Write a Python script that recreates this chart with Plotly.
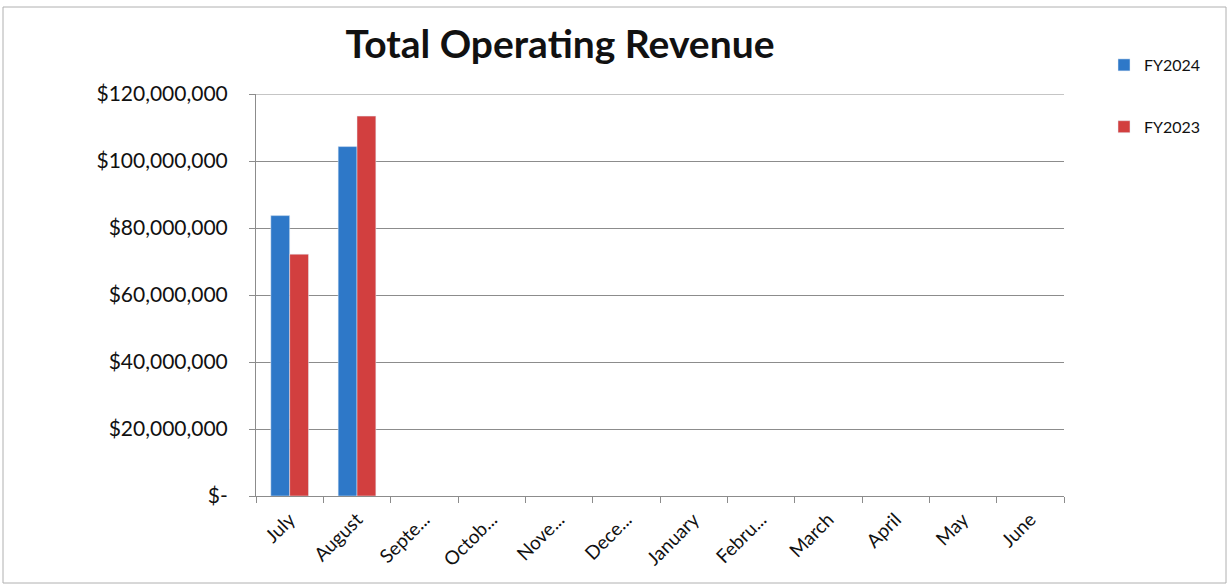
import plotly.graph_objects as go

months = ["July", "August", "September", "October", "November", "December",
          "January", "February", "March", "April", "May", "June"]
month_labels = ["July", "August", "Septe...", "Octob...", "Nove...", "Dece...",
                "January", "Febru...", "March", "April", "May", "June"]
fy2024 = [83_700_000, 104_300_000, None, None, None, None, None, None, None, None, None, None]
fy2023 = [72_200_000, 113_400_000, None, None, None, None, None, None, None, None, None, None]
y_ticks = [0, 20_000_000, 40_000_000, 60_000_000, 80_000_000, 100_000_000, 120_000_000]
y_tick_labels = ["$-", "$20,000,000", "$40,000,000", "$60,000,000", "$80,000,000",
                 "$100,000,000", "$120,000,000"]

FONT = "Lato, Calibri, Carlito, sans-serif"
L, R, T, B = 256, 167, 94, 89
PW, PH = 1231 - L - R, 585 - T - B

fig = go.Figure()
fig.add_trace(go.Bar(x=months, y=fy2024, name="FY2024", marker_color="#2E78C8",
                     legendgroup="a"))
fig.add_trace(go.Bar(x=months, y=fy2023, name="FY2023", marker_color="#D23F3F",
                     legendgroup="b"))

fig.update_layout(
    width=1231, height=585,
    margin=dict(l=L, r=R, t=T, b=B),
    paper_bgcolor="white", plot_bgcolor="white",
    barmode="group", bargap=0.44, bargroupgap=0,
    title=dict(text="<b>Total Operating Revenue</b>", x=(560 / 1231), xanchor="center",
               y=1 - 44 / 585, yanchor="middle",
               font=dict(family=FONT, size=39, color="#111111")),
    font=dict(family=FONT, color="#111111"),
    legend=dict(x=1 + (1104 - L - PW) / PW, xanchor="left",
                y=1 + (T - 48) / PH, yanchor="top",
                tracegroupgap=38, traceorder="grouped",
                font=dict(family=FONT, size=16, color="#111111"),
                itemwidth=30),
    showlegend=True,
)
fig.update_xaxes(
    type="category", categoryorder="array", categoryarray=months,
    tickvals=months, ticktext=month_labels, tickangle=-45,
    tickfont=dict(family=FONT, size=19, color="#111111"),
    showline=True, linecolor="#8c8c8c", linewidth=1,
    ticks="outside", ticklen=6, tickcolor="#8c8c8c", tickson="boundaries",
    showgrid=False, ticklabelstandoff=4,
)
fig.update_yaxes(
    range=[0, 120_000_000], tickvals=y_ticks, ticktext=y_tick_labels,
    tickfont=dict(family=FONT, size=21, color="#111111"),
    showline=True, linecolor="#8c8c8c", linewidth=1,
    ticks="outside", ticklen=6, tickcolor="#8c8c8c",
    showgrid=True, gridcolor="#8c8c8c", gridwidth=1,
    zeroline=False, ticklabelstandoff=17,
)
fig.add_shape(type="line", xref="paper", yref="y", x0=0, x1=1,
              y0=y_ticks[-1], y1=y_ticks[-1],
              line=dict(color="#8c8c8c", width=1))
fig.add_shape(type="rect", xref="paper", yref="paper",
              x0=(3 - L) / PW, x1=(1226 - L) / PW,
              y0=(T + PH - 583) / PH, y1=(T + PH - 7) / PH,
              line=dict(color="#b0b0b0", width=1), layer="below")

fig.write_html("out.html")
